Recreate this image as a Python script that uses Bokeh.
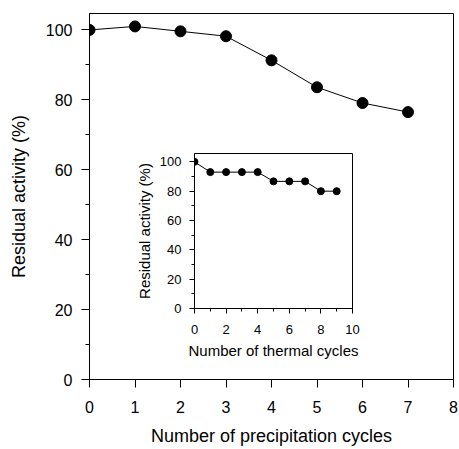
from bokeh.plotting import figure
from bokeh.layouts import column
from bokeh.models import Range1d, FixedTicker
from bokeh.embed import file_html
from bokeh.resources import INLINE

# ---- data ----
precip_cycles = [0, 1, 2, 3, 4, 5, 6, 7]
precip_activity = [100, 101, 99.6, 98.2, 91.3, 83.6, 79.1, 76.5]

thermal_cycles = [0, 1, 2, 3, 4, 5, 6, 7, 8, 9]
thermal_activity = [100, 93, 93, 93, 93, 86.7, 86.7, 86.7, 80, 80]

main_x_ticks = [0, 1, 2, 3, 4, 5, 6, 7, 8]
main_y_ticks = [0, 20, 40, 60, 80, 100]
main_y_minor = [10, 30, 50, 70, 90]
inset_x_ticks = [0, 2, 4, 6, 8, 10]
inset_x_minor = [1, 3, 5, 7, 9]
inset_y_ticks = [0, 20, 40, 60, 80, 100]
inset_y_minor = [10, 30, 50, 70, 90]

FONT = "Liberation Sans"


def style_axes(p, tick_size, label_size, major_out, minor_out):
    for ax in (p.xaxis[0], p.yaxis[0]):
        ax.axis_line_color = "black"
        ax.major_tick_line_color = "black"
        ax.minor_tick_line_color = "black"
        ax.major_tick_in = 0
        ax.minor_tick_in = 0
        ax.major_tick_out = major_out
        ax.minor_tick_out = minor_out
        ax.major_label_text_font = FONT
        ax.major_label_text_font_size = tick_size
        ax.major_label_text_color = "black"
        ax.axis_label_text_font = FONT
        ax.axis_label_text_font_size = label_size
        ax.axis_label_text_font_style = "normal"
        ax.axis_label_text_color = "black"
    p.xgrid.visible = False
    p.ygrid.visible = False
    p.outline_line_color = "black"
    p.outline_line_width = 1


# ---- main plot ----
p = figure(frame_width=364, frame_height=366,
           min_border_left=89, min_border_right=6,
           min_border_top=13, min_border_bottom=70,
           x_range=Range1d(0, 8), y_range=Range1d(0, 104.7),
           output_backend="svg", toolbar_location=None)
p.xaxis.axis_label = "Number of precipitation cycles"
p.yaxis.axis_label = "Residual activity (%)"
p.xaxis.ticker = FixedTicker(ticks=main_x_ticks)
p.yaxis.ticker = FixedTicker(ticks=main_y_ticks, minor_ticks=main_y_minor)
style_axes(p, "16px", "18px", 8, 4)
p.xaxis.major_label_standoff = 13
p.yaxis.major_label_standoff = 9
p.xaxis.axis_label_standoff = 10
p.yaxis.axis_label_standoff = 14
p.line(precip_cycles, precip_activity, line_color="black", line_width=1)
p.scatter(precip_cycles, precip_activity, size=11, fill_color="black",
          line_color="black")

# ---- inset plot ----
ins = figure(frame_width=158, frame_height=155,
             min_border_left=89, min_border_right=14,
             min_border_top=3, min_border_bottom=52,
             x_range=Range1d(0, 10), y_range=Range1d(0, 105.7),
             output_backend="svg", toolbar_location=None)
ins.xaxis.axis_label = "Number of thermal cycles"
ins.yaxis.axis_label = "Residual activity (%)"
ins.xaxis.ticker = FixedTicker(ticks=inset_x_ticks, minor_ticks=inset_x_minor)
ins.yaxis.ticker = FixedTicker(ticks=inset_y_ticks, minor_ticks=inset_y_minor)
style_axes(ins, "13px", "15px", 5, 3)
ins.xaxis.major_label_standoff = 11
ins.yaxis.major_label_standoff = 8
ins.xaxis.axis_label_standoff = 5
ins.yaxis.axis_label_standoff = 4
ins.background_fill_alpha = 0
ins.border_fill_alpha = 0
ins.line(thermal_cycles, thermal_activity, line_color="black", line_width=1)
ins.scatter(thermal_cycles, thermal_activity, size=7, fill_color="black",
            line_color="black")
ins.styles = {"position": "absolute", "left": "105px", "top": "150px"}

layout = column(p, ins, spacing=0)
layout.styles = {"position": "relative"}

open("out.html", "w").write(file_html(layout, INLINE))
